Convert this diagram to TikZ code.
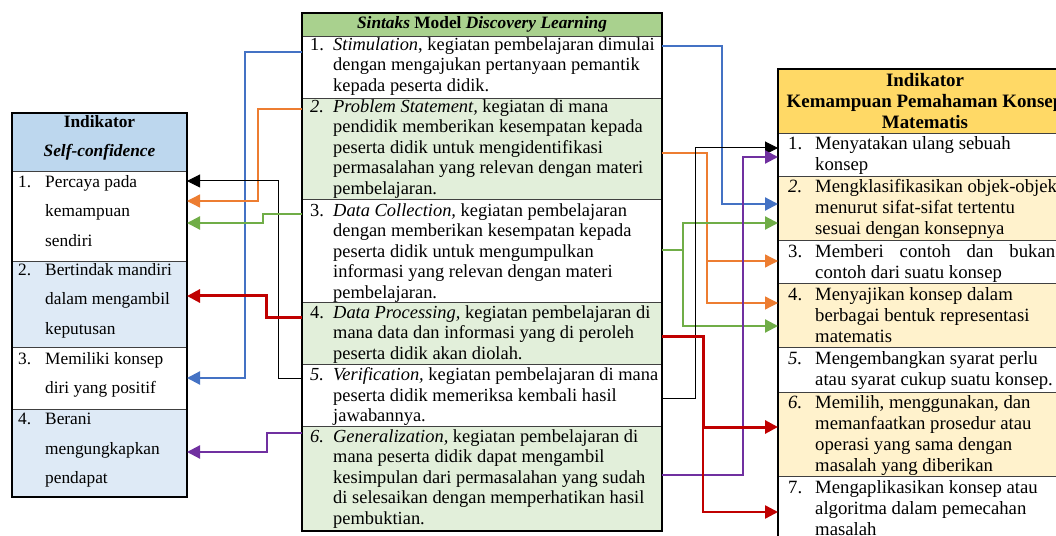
\documentclass[tikz,border=0pt]{standalone}
\usepackage{fontspec}
\setmainfont{Liberation Serif}
\usetikzlibrary{arrows.meta}
\definecolor{lhead}{HTML}{BDD7EE}
\definecolor{lrow}{HTML}{DEEAF6}
\definecolor{mhead}{HTML}{A9D18E}
\definecolor{mrow}{HTML}{E2EFDA}
\definecolor{rhead}{HTML}{FFD966}
\definecolor{rrow}{HTML}{FFF2CC}
\definecolor{cblue}{HTML}{4472C4}
\definecolor{corange}{HTML}{ED7D31}
\definecolor{cgreen}{HTML}{70AD47}
\definecolor{cred}{HTML}{C00000}
\definecolor{cpurple}{HTML}{7030A0}
\newcommand{\nb}[1]{\makebox[27bp][l]{#1}}
\newcommand{\nm}[1]{\makebox[23bp][l]{#1}}
\newcommand{\ind}{\hspace*{27bp}}
\newcommand{\indm}{\hspace*{23bp}}
\newcommand{\mkcell}[6]{%
  \pgfmathsetmacro{\cw}{#4-#2}\pgfmathsetmacro{\ch}{#5-#3}%
  \node[cell,fill=#6,minimum width=\cw bp,minimum height=\ch bp] (#1) at (#2,#3) {};}
\begin{document}
\begin{tikzpicture}[x=1bp,y=-1bp,
  cell/.style={draw=black!75,line width=0.7bp,anchor=north west,inner sep=0,outer sep=0},
  frame/.style={draw=black,line width=1.1bp},
  mtxt/.style={anchor=north west,inner sep=0,align=left,font=\fontsize{18.5}{20.5}\selectfont},
  rtxt/.style={anchor=north west,inner sep=0,align=left,font=\fontsize{18.8}{21}\selectfont},
  ltxt/.style={anchor=north west,inner sep=0,align=left,font=\fontsize{17.4}{29.5}\selectfont},
  htxt/.style={anchor=north,inner sep=0,align=center},
  tip/.style={-{Triangle[length=13bp,width=13bp]}},
  cbl/.style={tip,draw=cblue,line width=2.2bp},
  cor/.style={tip,draw=corange,line width=1.3bp},
  cbk/.style={tip,draw=black,line width=1bp},
  cgr/.style={tip,draw=cgreen,line width=2.2bp},
  crd/.style={tip,draw=cred,line width=3bp},
  cpu/.style={tip,draw=cpurple,line width=2.2bp},
  ]
\clip (0,0) rectangle (1056,536);
\fill[white] (0,0) rectangle (1056,536);
% ---------- left table
\mkcell{lh}{12}{113}{187}{171}{lhead}
\mkcell{l1}{12}{171}{187}{261}{white}
\mkcell{l2}{12}{261}{187}{347}{lrow}
\mkcell{l3}{12}{347}{187}{409}{white}
\mkcell{l4}{12}{409}{187}{497}{lrow}
\draw[frame] (lh.north west) rectangle (l4.south east);
\node[htxt,font=\bfseries\fontsize{17.4}{29}\selectfont] (lht) at (99.5,115) {Indikator\\\textit{Self-confidence}};
\node[ltxt] (l1t) at (18,175) {\nb{1.}Percaya pada\\\ind kemampuan\\\ind sendiri};
\node[ltxt] (l2t) at (18,263) {\nb{2.}Bertindak mandiri\\\ind dalam mengambil\\\ind keputusan};
\node[ltxt] (l3t) at (18,352) {\nb{3.}Memiliki konsep\\\ind diri yang positif};
\node[ltxt] (l4t) at (18,413) {\nb{4.}Berani\\\ind mengungkapkan\\\ind pendapat};
% ---------- middle table
\mkcell{mh}{302}{13}{662}{36}{mhead}
\mkcell{m1}{302}{36}{662}{98}{white}
\mkcell{m2}{302}{98}{662}{199}{mrow}
\mkcell{m3}{302}{199}{662}{302}{white}
\mkcell{m4}{302}{302}{662}{364}{mrow}
\mkcell{m5}{302}{364}{662}{426}{white}
\mkcell{m6}{302}{426}{662}{531}{mrow}
\draw[frame] (mh.north west) rectangle (m6.south east);
\node[htxt,font=\bfseries\fontsize{17.4}{21}\selectfont] (mht) at (482,16) {\textit{Sintaks} Model \textit{Discovery Learning}};
\node[mtxt] (m1t) at (310,37.4) {\nm{1.}\textit{Stimulation}, kegiatan pembelajaran dimulai\\\indm dengan mengajukan pertanyaan pemantik\\\indm kepada peserta didik.};
\node[mtxt] (m2t) at (310,99.4) {\nm{\textit{2.}}\textit{Problem Statement,} kegiatan di mana\\\indm pendidik memberikan kesempatan kepada\\\indm peserta didik untuk mengidentifikasi\\\indm permasalahan yang relevan dengan materi\\\indm pembelajaran.};
\node[mtxt] (m3t) at (310,203.4) {\nm{3.}\textit{Data Collection,} kegiatan pembelajaran\\\indm dengan memberikan kesempatan kepada\\\indm peserta didik untuk mengumpulkan\\\indm informasi yang relevan dengan materi\\\indm pembelajaran.};
\node[mtxt] (m4t) at (310,305.4) {\nm{4.}\textit{Data Processing,} kegiatan pembelajaran di\\\indm mana data dan informasi yang di peroleh\\\indm peserta didik akan diolah.};
\node[mtxt] (m5t) at (310,367.4) {\nm{\textit{5.}}\textit{Verification,} kegiatan pembelajaran di mana\\\indm peserta didik memeriksa kembali hasil\\\indm jawabannya.};
\node[mtxt] (m6t) at (310,429.4) {\nm{\textit{6.}}\textit{Generalization,} kegiatan pembelajaran di\\\indm mana peserta didik dapat mengambil\\\indm kesimpulan dari permasalahan yang sudah\\\indm di selesaikan dengan memperhatikan hasil\\\indm pembuktian.};
% ---------- right table
\mkcell{rh}{778}{69}{1068}{133}{rhead}
\mkcell{r1}{778}{133}{1068}{176}{white}
\mkcell{r2}{778}{176}{1068}{240}{rrow}
\mkcell{r3}{778}{240}{1068}{283}{white}
\mkcell{r4}{778}{283}{1068}{347}{rrow}
\mkcell{r5}{778}{347}{1068}{392}{white}
\mkcell{r6}{778}{392}{1068}{476}{rrow}
\mkcell{r7}{778}{476}{1068}{560}{white}
\draw[frame] (rh.north west) rectangle (r7.south east);
\node[htxt,font=\bfseries\fontsize{19}{21}\selectfont] (rht) at (925,73.5) {Indikator\\Kemampuan Pemahaman Konsep\\Matematis};
\node[rtxt] (r1t) at (788,136.4) {\nb{1.}Menyatakan ulang sebuah\\\ind konsep};
\node[rtxt] (r2t) at (788,179.4) {\nb{\textit{2.}}Mengklasifikasikan objek-objek\\\ind menurut sifat-sifat tertentu\\\ind sesuai dengan konsepnya};
\node[rtxt] (r3t) at (788,244.4) {\nb{3.}\makebox[240bp][s]{Memberi contoh dan bukan}\\\ind contoh dari suatu konsep};
\node[rtxt] (r4t) at (788,287.4) {\nb{4.}Menyajikan konsep dalam\\\ind berbagai bentuk representasi\\\ind matematis};
\node[rtxt] (r5t) at (788,351.4) {\nb{\textit{5.}}Mengembangkan syarat perlu\\\ind atau syarat cukup suatu konsep.};
\node[rtxt] (r6t) at (788,395.4) {\nb{\textit{6.}}Memilih, menggunakan, dan\\\ind memanfaatkan prosedur atau\\\ind operasi yang sama dengan\\\ind masalah yang diberikan};
\node[rtxt] (r7t) at (788,480.4) {\nb{7.}Mengaplikasikan konsep atau\\\ind algoritma dalam pemecahan\\\ind masalah};
% ---------- connectors to the left table
\draw[cbl] (m1.west |- 0,52) -- (245,52) -- (245,378) -- (l3.east |- 0,378);
\draw[cor] (m2.west |- 0,109) -- (258,109) -- (258,201) -- (l1.east |- 0,201);
\draw[cbk] (m5.west |- 0,378) -- (278,378) -- (278,181) -- (l1.east |- 0,181);
\draw[cgr] (m3.west |- 0,214) -- (263,214) -- (263,223) -- (l1.east |- 0,223);
\draw[crd] (m4.west |- 0,318) -- (266,318) -- (266,296) -- (l2.east |- 0,296);
\draw[cpu] (m6.west |- 0,433) -- (267,433) -- (267,452) -- (l4.east |- 0,452);
% ---------- connectors to the right table
\coordinate (ob) at (707,261);
\coordinate (gt) at (683,223);
\coordinate (rb) at (703,427);
\draw[cbl] (m1.east |- 0,46) -- (722,46) -- (722,204) -- (r2.west |- 0,204);
\draw[cor] (m2.east |- 0,153) -- (707,153) -- (707,303) -- (r4.west |- 0,303);
\draw[cor] (ob) -- (r3.west |- ob);
\draw[cgr,-] (m3.east |- 0,250) -- (683,250);
\draw[cgr] (683,326) -- (gt) -- (r2.west |- gt);
\draw[cgr] (gt) -- (683,326) -- (r4.west |- 0,326);
\draw[cbk] (m5.east |- 0,398) -- (695,398) -- (695,148) -- (r1.west |- 0,148);
\draw[cpu] (m6.east |- 0,475) -- (743,475) -- (743,157) -- (r1.west |- 0,157);
\draw[crd] (m4.east |- 0,337) -- (703,337) -- (rb) -- (r6.west |- rb);
\draw[crd,line width=2.4bp] (rb) -- (703,512) -- (r7.west |- 0,512);
\end{tikzpicture}
\end{document}
